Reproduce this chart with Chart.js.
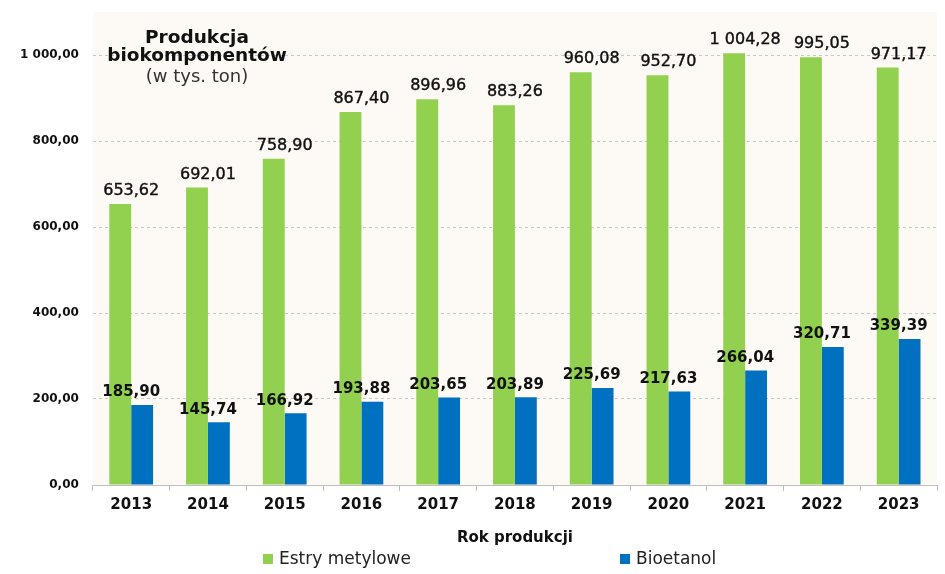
<!DOCTYPE html>
<html lang="pl">
<head>
<meta charset="utf-8">
<script src="https://cdn.jsdelivr.net/npm/chart.js@4"></script>
<style>
    body { margin: 0; background: #fff; }
    #wrap { position: relative; width: 945px; height: 574px; font-family: "DejaVu Sans", Verdana, sans-serif; }
    #title { position: absolute; left: 92px; top: 28px; width: 210px; text-align: center; color: #111; }
    #title .main { font-weight: bold; font-size: 18.5px; line-height: 18px; }
    #title .sub { font-size: 18px; line-height: 24px; color: #333; margin-top: 0px; }
    #legend { position: absolute; left: 0; top: 548px; width: 945px; height: 20px; }
    .item { position: absolute; top: 0; font-size: 17px; color: #222; white-space: nowrap; line-height: 20px; }
    .item span.box { display: inline-block; width: 10px; height: 10px; margin-right: 6px; vertical-align: 0px; }
</style>
</head>
<body>
<div id="wrap">
    <canvas id="chart" width="945" height="574"></canvas>
    <div id="title">
        <div class="main">Produkcja<br>biokomponentów</div>
        <div class="sub">(w tys. ton)</div>
    </div>
    <div id="legend"></div>
</div>
<script>
// dane
const years = ['2013', '2014', '2015', '2016', '2017', '2018', '2019', '2020', '2021', '2022', '2023'];
const estry = [653.62, 692.01, 758.90, 867.40, 896.96, 883.26, 960.08, 952.70, 1004.28, 995.05, 971.17];
const bioetanol = [185.90, 145.74, 166.92, 193.88, 203.65, 203.89, 225.69, 217.63, 266.04, 320.71, 339.39];
const seriesNames = ['Estry metylowe', 'Bioetanol'];
const seriesColors = ['#92D050', '#0070C0'];
const yTicks = [0, 200, 400, 600, 800, 1000];

function fmt(v) {
    let parts = v.toFixed(2).split('.');
    let i = parts[0].replace(/\B(?=(\d{3})+(?!\d))/g, ' ');
    return i + ',' + parts[1];
}

// tlo obszaru wykresu
const plotBg = {
    id: 'plotBg',
    beforeDraw(chart) {
        const a = chart.chartArea;
        const ctx = chart.ctx;
        ctx.save();
        ctx.fillStyle = '#FDF9F5';
        ctx.fillRect(a.left, a.top, a.right - a.left, a.bottom - a.top);
        ctx.restore();
    }
};

// etykiety wartosci nad slupkami
const valueLabels = {
    id: 'valueLabels',
    afterDatasetsDraw(chart) {
        const ctx = chart.ctx;
        const xs = chart.scales.x;
        ctx.save();
        ctx.textAlign = 'center';
        ctx.textBaseline = 'bottom';
        chart.data.datasets.forEach((ds, di) => {
            const meta = chart.getDatasetMeta(di);
            ctx.font = di === 0 ? '16px "DejaVu Sans"' : 'bold 15px "DejaVu Sans"';
            ctx.fillStyle = '#111';
            ctx.strokeStyle = '#111';
            ctx.lineWidth = 0.4;
            meta.data.forEach((bar, i) => {
                const x = xs.getPixelForValue(i);
                const t = fmt(ds.data[i]);
                ctx.fillText(t, x, bar.y - 5);
                if (di === 0) ctx.strokeText(t, x, bar.y - 5);
            });
        });
        ctx.restore();
    }
};

new Chart(document.getElementById('chart'), {
    type: 'bar',
    data: {
        labels: years,
        datasets: [
            { label: seriesNames[0], data: estry, backgroundColor: seriesColors[0] },
            { label: seriesNames[1], data: bioetanol, backgroundColor: seriesColors[1] }
        ]
    },
    options: {
        responsive: false,
        animation: false,
        layout: { padding: { left: 6, right: 8, top: 12, bottom: 27 } },
        datasets: { bar: { barPercentage: 1, categoryPercentage: 0.57 } },
        plugins: {
            legend: { display: false },
            tooltip: { enabled: false }
        },
        scales: {
            x: {
                grid: { drawOnChartArea: false, tickLength: 6, color: '#BFBFBF' },
                border: { color: '#BFBFBF' },
                ticks: { color: '#111', padding: 5, font: { family: 'DejaVu Sans', size: 15, weight: 'bold' } },
                title: {
                    display: true,
                    text: 'Rok produkcji',
                    color: '#111',
                    padding: { top: 10, bottom: 0 },
                    font: { family: 'DejaVu Sans', size: 15, weight: 'bold' }
                }
            },
            y: {
                min: 0,
                max: 1100,
                afterBuildTicks(axis) {
                    axis.ticks = yTicks.map(v => ({ value: v }));
                },
                afterFit(axis) {
                    axis.paddingTop = 0;
                    axis.paddingBottom = 0;
                },
                grid: { color: '#C8C8C8', drawTicks: false },
                border: { display: false, dash: [3, 3] },
                ticks: {
                    color: '#111',
                    padding: 14,
                    font: { family: 'DejaVu Sans', size: 12, weight: 'bold' },
                    callback: v => fmt(v)
                }
            }
        }
    },
    plugins: [plotBg, valueLabels]
});

// legenda
const legend = document.getElementById('legend');
const legendX = [263, 620];
seriesNames.forEach((name, i) => {
    const el = document.createElement('div');
    el.className = 'item';
    el.style.left = legendX[i] + 'px';
    el.innerHTML = '<span class="box" style="background:' + seriesColors[i] + '"></span>' + name;
    legend.appendChild(el);
});
</script>
</body>
</html>
